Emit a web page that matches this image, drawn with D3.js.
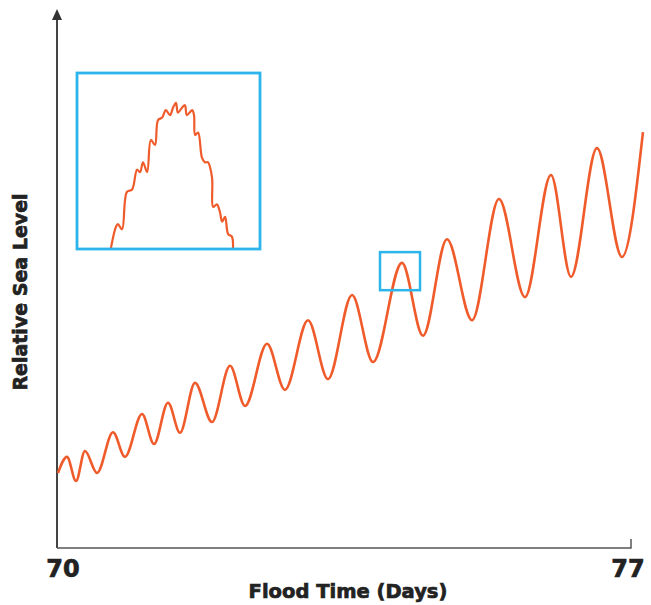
<!DOCTYPE html>
<html>
<head>
<meta charset="utf-8">
<script src="https://cdn.jsdelivr.net/npm/d3@7"></script>
<style>
  body { margin: 0; background: #fff; }
  text { font-family: "DejaVu Sans", Verdana, sans-serif; font-weight: bold; fill: #222; stroke: #222; stroke-width: 0.7px; }
</style>
</head>
<body>
<div class="visHolder"></div>
<script>
const w = 651;
const h = 605;

// main record: flood time (days) and relative sea level (arbitrary units)
const days = [70.012, 70.122, 70.232, 70.341, 70.488, 70.683, 70.829, 71.037, 71.183, 71.354,
  71.500, 71.683, 71.890, 72.110, 72.293, 72.561, 72.780, 73.061, 73.305, 73.598,
  73.854, 74.207, 74.463, 74.756, 75.061, 75.390, 75.707, 76.024, 76.268, 76.585,
  76.890, 77.146];
const level = [14.0, 17.0, 12.5, 18.1, 14.0, 21.6, 17.0, 25.0, 19.4, 27.1,
  21.5, 30.8, 23.5, 34.0, 26.5, 38.1, 29.5, 42.5, 31.5, 47.2,
  34.7, 53.2, 39.6, 57.6, 42.5, 65.1, 46.8, 69.6, 50.6, 74.6,
  54.3, 77.6];

// zoomed window around one high tide
const zoomDays = [73.939, 74.427];
const zoomLevel = [48.1, 55.2];

// detail inside that window
const insetDays = [74.029, 74.043, 74.048, 74.059, 74.072, 74.086, 74.099, 74.107, 74.115, 74.126,
  74.136, 74.147, 74.155, 74.166, 74.176, 74.187, 74.195, 74.203, 74.208, 74.219,
  74.227, 74.232, 74.246, 74.251, 74.254, 74.262, 74.272, 74.280, 74.288, 74.299,
  74.302, 74.312, 74.320, 74.326, 74.334, 74.342, 74.352, 74.355];
const insetLevel = [48.1, 49.0, 49.1, 48.9, 50.4, 50.5, 51.3, 51.2, 51.6, 51.2,
  52.5, 52.3, 53.3, 53.4, 53.7, 53.5, 53.8, 54.0, 53.6, 53.8,
  53.9, 53.5, 53.7, 53.5, 52.7, 52.8, 51.8, 51.6, 51.6, 51.0,
  49.8, 49.9, 49.6, 49.2, 49.4, 48.7, 48.6, 48.1];

const xTicks = [70, 77];

const orange = '#ef5b2b';
const blue = '#2bb5ec';

var svg = d3.select('.visHolder')
  .append('svg')
  .attr('width', w)
  .attr('height', h);

const xScale = d3.scaleLinear().domain([70, 77]).range([57, 631]);
const yScale = d3.scaleLinear().domain([0, 100]).range([548, 12]);

// axes
svg.append('line')
  .attr('x1', 57).attr('x2', 57)
  .attr('y1', 548).attr('y2', 18)
  .attr('stroke', '#444').attr('stroke-width', 2);
svg.append('path')
  .attr('d', 'M57,9 L52,20 L62,20 Z')
  .attr('fill', '#333');
svg.append('path')
  .attr('d', 'M57,548 L' + xScale(77) + ',548 L' + xScale(77) + ',539')
  .attr('fill', 'none')
  .attr('stroke', '#555').attr('stroke-width', 1.5);

svg.selectAll('.xlabel')
  .data(xTicks)
  .enter()
  .append('text')
  .attr('class', 'xlabel')
  .attr('x', d => xScale(d))
  .attr('dx', (d, i) => i === 0 ? 6 : -3)
  .attr('y', 577)
  .attr('text-anchor', 'middle')
  .style('font-size', '24px')
  .text(d => d);

svg.append('text')
  .attr('x', 348)
  .attr('y', 598)
  .attr('text-anchor', 'middle')
  .style('font-size', '19.5px')
  .text('Flood Time (Days)');

svg.append('text')
  .attr('transform', 'rotate(-90)')
  .attr('x', -292)
  .attr('y', 27)
  .attr('text-anchor', 'middle')
  .style('font-size', '19px')
  .text('Relative Sea Level');

// main curve
const line = d3.line()
  .x((d, i) => xScale(days[i]))
  .y(d => yScale(d))
  .curve(d3.curveMonotoneX);

svg.append('path')
  .datum(level)
  .attr('d', line)
  .attr('fill', 'none')
  .attr('stroke', orange)
  .attr('stroke-width', 2.6)
  .attr('stroke-linejoin', 'round');

// small box marking the zoomed window
svg.append('rect')
  .attr('x', xScale(zoomDays[0]))
  .attr('y', yScale(zoomLevel[1]))
  .attr('width', xScale(zoomDays[1]) - xScale(zoomDays[0]))
  .attr('height', yScale(zoomLevel[0]) - yScale(zoomLevel[1]))
  .attr('fill', 'none')
  .attr('stroke', blue)
  .attr('stroke-width', 2.5);

// inset
const ix = d3.scaleLinear().domain(zoomDays).range([77, 260]);
const iy = d3.scaleLinear().domain(zoomLevel).range([249, 73]);

svg.append('clipPath')
  .attr('id', 'insetClip')
  .append('rect')
  .attr('x', 77).attr('y', 73)
  .attr('width', 183).attr('height', 176);

const insetLine = d3.line()
  .x((d, i) => ix(insetDays[i]))
  .y(d => iy(d))
  .curve(d3.curveCatmullRom.alpha(0.5));

svg.append('path')
  .datum(insetLevel)
  .attr('d', insetLine)
  .attr('clip-path', 'url(#insetClip)')
  .attr('fill', 'none')
  .attr('stroke', orange)
  .attr('stroke-width', 2.2)
  .attr('stroke-linejoin', 'round');

svg.append('rect')
  .attr('x', 77).attr('y', 73)
  .attr('width', 183).attr('height', 176)
  .attr('fill', 'none')
  .attr('stroke', blue)
  .attr('stroke-width', 2.8);
</script>
</body>
</html>
